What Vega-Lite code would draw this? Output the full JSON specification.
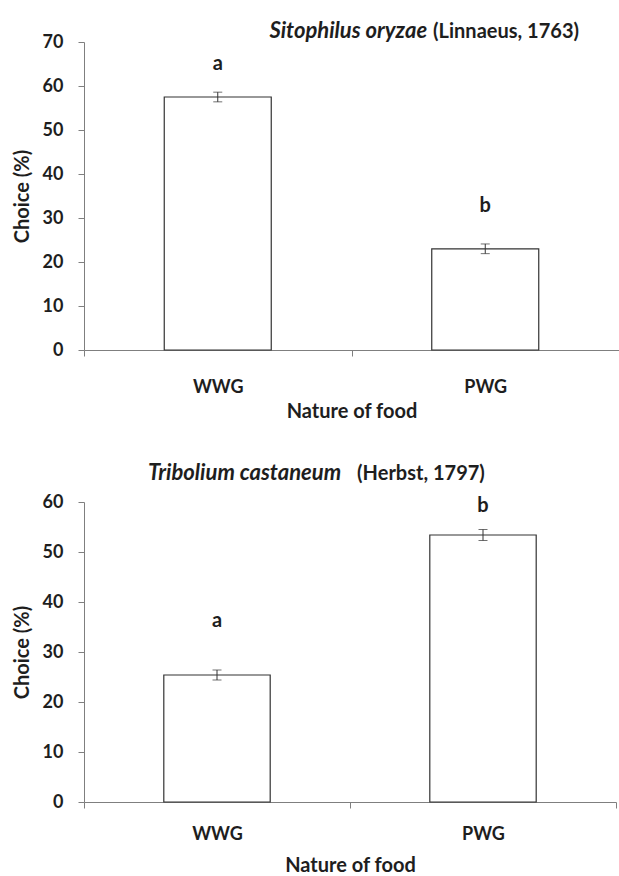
{
  "$schema": "https://vega.github.io/schema/vega-lite/v6.json",
  "padding": {"top": 20, "left": 12, "right": 0, "bottom": 0},
  "spacing": 41,
  "datasets": {
    "sito": [
      {"food": "WWG", "choice": 57.5, "lower": 56.4, "upper": 58.6, "letter": "a"},
      {"food": "PWG", "choice": 23.0, "lower": 21.9, "upper": 24.1, "letter": "b"}
    ],
    "trib": [
      {"food": "WWG", "choice": 25.4, "lower": 24.4, "upper": 26.4, "letter": "a"},
      {"food": "PWG", "choice": 53.4, "lower": 52.3, "upper": 54.5, "letter": "b"}
    ]
  },
  "config": {
    "view": {"stroke": null},
    "font": "Lato",
    "axis": {
      "grid": false,
      "domainColor": "#7f7f7f",
      "tickColor": "#7f7f7f",
      "tickSize": 6,
      "labelFont": "Lato",
      "labelFontSize": 18,
      "labelFontWeight": "bold",
      "labelColor": "#1e1e1e",
      "titleFont": "Lato",
      "titleFontSize": 20,
      "titleFontWeight": "bold",
      "titleColor": "#1e1e1e"
    },
    "title": {"font": "Lato", "fontSize": 20, "fontWeight": "bold", "color": "#1e1e1e"}
  },
  "vconcat": [
    {
      "title": {"text": "Sitophilus oryzae", "fontStyle": "italic", "fontSize": 22, "anchor": "start", "align": "right", "dx": 415, "offset": -21},
      "vconcat": [
        {
          "title": {"text": "(Linnaeus, 1763)", "anchor": "start", "align": "left", "dx": 421, "offset": -9},
          "width": 535,
          "height": 308,
          "data": {"name": "sito"},
          "encoding": {
            "x": {"field": "food", "type": "nominal", "sort": null, "scale": {"paddingInner": 0, "paddingOuter": 0},
              "axis": {"title": "Nature of food", "labelAngle": 0, "tickBand": "extent", "labelPadding": 22, "titlePadding": 5}}
          },
          "layer": [
            {
              "mark": {"type": "bar", "width": {"band": 0.4}, "fill": "white", "stroke": "#333333", "strokeWidth": 1.2},
              "encoding": {
                "y": {"field": "choice", "type": "quantitative", "title": "Choice (%)", "scale": {"domain": [0, 70]},
                  "axis": {"values": [0, 10, 20, 30, 40, 50, 60, 70], "labelPadding": 15, "titlePadding": 10}}
              }
            },
            {
              "mark": {"type": "errorbar", "ticks": {"size": 9}, "color": "#333333", "thickness": 1},
              "encoding": {
                "y": {"field": "lower", "type": "quantitative", "title": "Choice (%)"},
                "y2": {"field": "upper"}
              }
            },
            {
              "transform": [{"filter": "datum.food === 'WWG'"}],
              "mark": {"type": "text", "fontSize": 20, "fontWeight": "bold", "color": "#1e1e1e", "dy": -28},
              "encoding": {"y": {"field": "upper", "type": "quantitative", "title": "Choice (%)"}, "text": {"field": "letter"}}
            },
            {
              "transform": [{"filter": "datum.food === 'PWG'"}],
              "mark": {"type": "text", "fontSize": 20, "fontWeight": "bold", "color": "#1e1e1e", "dy": -38},
              "encoding": {"y": {"field": "upper", "type": "quantitative", "title": "Choice (%)"}, "text": {"field": "letter"}}
            }
          ]
        }
      ]
    },
    {
      "title": {"text": "Tribolium castaneum", "fontStyle": "italic", "fontSize": 22, "anchor": "start", "align": "right", "dx": 329, "offset": -21},
      "vconcat": [
        {
          "title": {"text": "(Herbst, 1797)", "anchor": "start", "align": "left", "dx": 345, "offset": 9},
          "width": 532,
          "height": 300,
          "data": {"name": "trib"},
          "encoding": {
            "x": {"field": "food", "type": "nominal", "sort": null, "scale": {"paddingInner": 0, "paddingOuter": 0},
              "axis": {"title": "Nature of food", "labelAngle": 0, "tickBand": "extent", "labelPadding": 17, "titlePadding": 12}}
          },
          "layer": [
            {
              "mark": {"type": "bar", "width": {"band": 0.4}, "fill": "white", "stroke": "#333333", "strokeWidth": 1.2},
              "encoding": {
                "y": {"field": "choice", "type": "quantitative", "title": "Choice (%)", "scale": {"domain": [0, 60]},
                  "axis": {"values": [0, 10, 20, 30, 40, 50, 60], "labelPadding": 15, "titlePadding": 10}}
              }
            },
            {
              "mark": {"type": "errorbar", "ticks": {"size": 9}, "color": "#333333", "thickness": 1},
              "encoding": {
                "y": {"field": "lower", "type": "quantitative", "title": "Choice (%)"},
                "y2": {"field": "upper"}
              }
            },
            {
              "transform": [{"filter": "datum.food === 'WWG'"}],
              "mark": {"type": "text", "fontSize": 20, "fontWeight": "bold", "color": "#1e1e1e", "dy": -49},
              "encoding": {"y": {"field": "upper", "type": "quantitative", "title": "Choice (%)"}, "text": {"field": "letter"}}
            },
            {
              "transform": [{"filter": "datum.food === 'PWG'"}],
              "mark": {"type": "text", "fontSize": 20, "fontWeight": "bold", "color": "#1e1e1e", "dy": -24},
              "encoding": {"y": {"field": "upper", "type": "quantitative", "title": "Choice (%)"}, "text": {"field": "letter"}}
            }
          ]
        }
      ]
    }
  ]
}
